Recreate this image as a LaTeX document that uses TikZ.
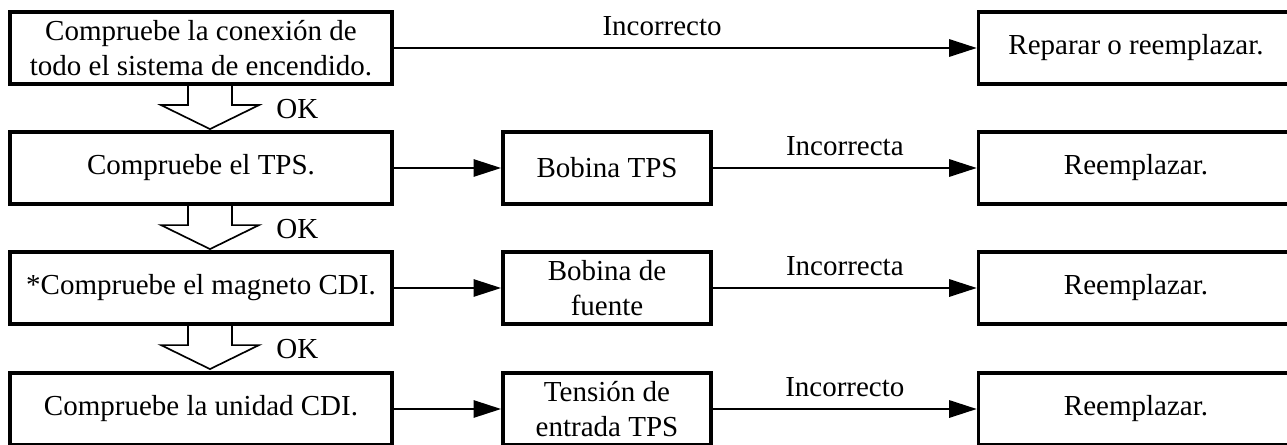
\documentclass[tikz,border=0pt]{standalone}
\usepackage{fontspec}
\setmainfont{Liberation Serif}
\usetikzlibrary{arrows.meta,calc,positioning}
\newcommand{\okarrow}[1]{\begin{scope}[shift={#1}]
  \draw[line width=1pt,line join=miter] (-22,0)--(-22,-19)--(-49,-19)--(0,-43)--(49,-19)--(22,-19)--(22,0);
  \node[anchor=west,inner sep=0pt] at (66,-23) {OK};\end{scope}}
\tikzset{box/.style={draw,line width=2.2pt,minimum height=43.5pt,inner sep=0pt,align=center},
  mainbox/.style={box,minimum width=229.5pt},
  subbox/.style={box,minimum width=125pt},
  fixbox/.style={box,minimum width=189pt},
  link/.style={->,line width=0.8pt}}

\begin{document}
\begin{tikzpicture}[x=0.6pt,y=0.6pt,>={Triangle[length=16.5pt,width=10.5pt]},font=\fontsize{17.4}{20.7}\selectfont]
\useasboundingbox (0,0) rectangle (1287,444);
\clip (0,0) rectangle (1287,444);
% checks on the left
\node[mainbox] (chk1) at (201,396) {Compruebe la conexión de\\todo el sistema de encendido.};
\node[mainbox] (chk2) at (201,276) {Compruebe el TPS.};
\node[mainbox] (chk3) at (201,156) {*Compruebe el magneto CDI.};
\node[mainbox] (chk4) at (201,35) {Compruebe la unidad CDI.};
% parts in the middle
\node[subbox] (sub2) at (607,276) {Bobina TPS};
\node[subbox] (sub3) at (607,156) {Bobina de\\fuente};
\node[subbox] (sub4) at (607,35) {Tensión de\\entrada TPS};
% remedies on the right
\node[fixbox] (fix1) at (1136,396) {Reparar o reemplazar.};
\node[fixbox] (fix2) at (1136,276) {Reemplazar.};
\node[fixbox] (fix3) at (1136,156) {Reemplazar.};
\node[fixbox] (fix4) at (1136,35) {Reemplazar.};
\draw[link] (chk1) -- (fix1) node[pos=0.46,above=7pt,inner sep=0pt]{Incorrecto};
\draw[link] (chk2) -- (sub2);
\draw[link] (chk3) -- (sub3);
\draw[link] (chk4) -- (sub4);
\draw[link] (sub2) -- (fix2) node[midway,above=7pt,inner sep=0pt]{Incorrecta};
\draw[link] (sub3) -- (fix3) node[midway,above=7pt,inner sep=0pt]{Incorrecta};
\draw[link] (sub4) -- (fix4) node[midway,above=7pt,inner sep=0pt]{Incorrecto};
\okarrow{($(chk1.south)+(9,0)$)}
\okarrow{($(chk2.south)+(9,0)$)}
\okarrow{($(chk3.south)+(9,0)$)}
\end{tikzpicture}
\end{document}
